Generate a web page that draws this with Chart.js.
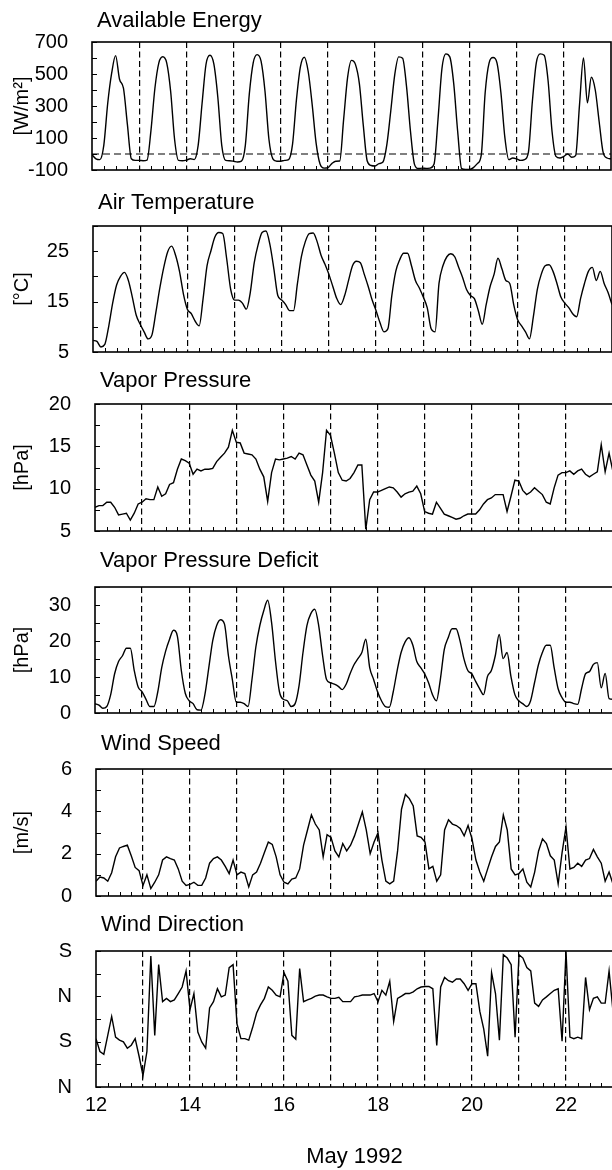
<!DOCTYPE html>
<html>
<head>
<meta charset="utf-8">
<script src="https://cdn.jsdelivr.net/npm/chart.js@4.4.1/dist/chart.umd.min.js"></script>
<style>
html, body { margin: 0; padding: 0; background: #fff; overflow: hidden; }
#wrap { position: relative; width: 612px; height: 1170px; overflow: hidden; background: #fff; }
#wrap canvas { position: absolute; left: 0; }
</style>
</head>
<body>
<div id="wrap"></div>
<script>
// ---------- data (2-hour samples, 12 May 00:00 to 23 May 00:00) ----------
const energy = [
  -5, -30, -35, 54, 317, 505, 615, 467, 411, 185, -30, -40,
  -40, -42, -38, 148, 411, 570, 608, 570, 392, 92, -40, -42,
  -38, -30, -35, 54, 317, 561, 617, 561, 355, 54, -40, -42,
  -45, -50, -45, 54, 373, 570, 621, 580, 392, 92, -30, -45,
  -45, -40, -35, 60, 340, 545, 605, 514, 309, 68, -63, -88,
  -85, -60, -45, -44, 216, 477, 585, 560, 440, 179, -44, -72,
  -75, -60, -50, 60, 272, 496, 607, 598, 421, 142, -63, -91,
  -88, -90, -88, -63, 216, 533, 626, 607, 440, 142, -91, -97,
  -97, -85, -60, -7, 384, 570, 603, 570, 384, 105, -35, -25,
  -30, -40, -35, 12, 328, 570, 626, 617, 458, 142, -15, -25,
  -15, 0, -20, -10, 310, 600, 320, 480, 400, 200, 10, -25,
  -30
];
const airTemp = [
  7.3, 7.1, 6.0, 6.5, 10.1, 14.7, 18.3, 20.0, 20.8, 19.2, 15.9, 12.3,
  10.5, 9.0, 7.6, 8.4, 12.9, 17.7, 21.8, 24.9, 26.0, 24.2, 21.0, 16.5,
  13.5, 12.6, 11.1, 10.2, 15.6, 22.1, 25.1, 27.8, 28.7, 28.5, 23.5, 17.5,
  15.3, 15.3, 14.7, 13.5, 16.8, 22.7, 26.3, 28.7, 29.0, 26.3, 21.5, 16.2,
  15.3, 14.4, 13.2, 13.2, 18.6, 23.9, 26.9, 28.5, 28.6, 26.9, 24.2, 22.4,
  20.4, 18.0, 15.6, 14.4, 16.2, 19.2, 22.1, 23.0, 22.7, 20.4, 18.0, 15.3,
  13.2, 10.8, 9.0, 9.6, 16.2, 21.0, 23.3, 24.6, 24.6, 22.1, 19.2, 17.7,
  15.9, 13.8, 9.6, 9.0, 18.6, 22.1, 23.9, 24.5, 23.9, 21.8, 19.8, 17.4,
  16.2, 15.6, 13.2, 10.5, 14.4, 18.0, 20.4, 23.6, 21.5, 19.2, 18.6, 14.4,
  11.4, 10.2, 9.0, 7.6, 12.0, 17.4, 20.4, 22.1, 22.3, 21.0, 18.6, 15.9,
  14.7, 13.8, 12.6, 12.0, 15.6, 18.6, 21.0, 21.8, 19.2, 21.0, 18.6, 16.8,
  14.4
];
const vaporPressure = [
  7.8, 8.0, 8.0, 8.4, 8.4, 7.8, 6.9, 7.0, 7.1, 6.3, 7.1, 8.2,
  8.4, 8.8, 8.7, 8.7, 10.2, 9.1, 9.4, 10.5, 10.7, 12.3, 13.5, 13.3,
  13.0, 11.7, 12.3, 12.1, 12.3, 12.3, 12.4, 13.2, 13.7, 14.2, 14.9, 16.9,
  15.5, 15.4, 14.2, 14.1, 14.0, 13.5, 12.3, 11.4, 8.5, 11.9, 13.5, 13.4,
  13.5, 13.6, 13.8, 13.5, 14.2, 14.0, 12.8, 11.6, 10.9, 8.4, 11.9, 16.9,
  16.3, 14.2, 11.9, 11.0, 10.9, 11.2, 11.9, 12.8, 12.8, 5.2, 8.7, 9.6,
  9.6, 9.8, 10.0, 10.2, 10.1, 9.6, 9.0, 9.4, 9.6, 9.7, 10.3, 9.4,
  7.3, 7.1, 7.0, 8.4, 7.7, 7.0, 6.8, 6.6, 6.4, 6.5, 6.8, 7.0,
  7.0, 7.0, 7.5, 8.2, 8.7, 8.9, 9.3, 9.3, 9.3, 7.3, 9.1, 11.0,
  10.9, 9.8, 9.3, 9.6, 10.1, 9.7, 9.3, 8.4, 8.2, 10.1, 11.6, 11.9,
  11.9, 12.1, 11.7, 12.1, 12.3, 11.7, 11.4, 11.7, 12.0, 15.2, 12.0, 14.2,
  12.0
];
const vaporDeficit = [
  2.6, 2.2, 1.3, 1.8, 5.1, 10.9, 14.3, 15.9, 18.0, 18.0, 11.8, 7.2,
  5.9, 3.8, 1.8, 1.8, 5.9, 12.6, 17.2, 20.5, 23.0, 21.3, 11.8, 5.5,
  3.4, 2.6, 0.9, 0.8, 5.1, 12.6, 20.1, 24.3, 25.9, 24.7, 15.9, 9.3,
  3.0, 3.0, 2.6, 1.8, 9.3, 18.4, 24.3, 28.4, 31.3, 25.1, 14.3, 5.9,
  3.8, 3.4, 1.8, 2.6, 7.6, 16.8, 24.3, 27.6, 28.8, 24.3, 15.9, 9.3,
  8.4, 8.0, 7.4, 6.5, 8.0, 10.9, 13.4, 15.1, 16.8, 20.5, 12.6, 9.3,
  5.9, 3.4, 1.8, 1.6, 5.9, 11.8, 16.8, 19.7, 20.9, 18.8, 14.3, 12.6,
  10.9, 8.4, 5.1, 3.4, 9.3, 17.6, 20.9, 23.4, 23.4, 20.1, 15.1, 11.8,
  10.9, 8.8, 6.8, 5.1, 10.1, 11.8, 15.9, 21.8, 15.1, 16.8, 10.1, 5.1,
  3.4, 2.6, 1.8, 3.4, 8.4, 13.4, 16.8, 18.8, 18.8, 12.6, 6.8, 4.3,
  3.0, 3.0, 2.6, 2.4, 6.8, 10.9, 11.5, 13.5, 14.0, 7.0, 11.0, 4.0,
  3.8
];
const windSpeed = [
  0.7, 0.9, 0.85, 0.7, 1.1, 1.85, 2.27, 2.34, 2.4, 1.9, 1.35, 1.2,
  0.5, 1.0, 0.35, 0.65, 1.0, 1.7, 1.85, 1.77, 1.7, 1.28, 0.7, 0.5,
  0.55, 0.65, 0.5, 0.5, 0.85, 1.55, 1.77, 1.85, 1.7, 1.4, 1.06, 1.7,
  1.0, 1.13, 1.06, 0.43, 1.0, 1.13, 1.55, 2.05, 2.55, 2.44, 1.85, 1.0,
  0.65, 0.57, 0.8, 0.85, 1.28, 2.4, 3.12, 3.83, 3.4, 3.12, 1.85, 2.9,
  2.77, 2.13, 1.85, 2.48, 2.13, 2.4, 2.84, 3.4, 3.97, 3.12, 2.0, 2.55,
  2.98, 1.7, 0.7, 0.57, 0.7, 2.13, 4.1, 4.8, 4.6, 4.25, 2.84, 2.77,
  2.55, 1.28, 1.4, 0.7, 1.0, 3.12, 3.6, 3.4, 3.33, 3.19, 2.84, 3.33,
  2.7, 1.7, 1.13, 0.7, 1.28, 1.85, 2.34, 2.55, 3.83, 3.12, 1.28, 1.0,
  1.06, 1.28, 0.65, 0.43, 1.13, 2.13, 2.7, 2.48, 1.9, 1.7, 0.57, 2.05,
  3.26, 1.28, 1.35, 1.55, 1.4, 1.7, 1.77, 2.2, 1.85, 1.55, 0.7, 1.13,
  0.57
];
// wind direction in degrees on an unwrapped N(0)-S(180)-N(360)-S(540) axis
const windDir = [
  192, 141, 130, 205, 280, 198, 186, 179, 154, 166, 192, 122,
  45, 141, 520, 205, 486, 339, 352, 339, 346, 371, 397, 461,
  307, 371, 218, 179, 154, 314, 339, 390, 358, 365, 474, 486,
  250, 192, 192, 186, 237, 294, 326, 352, 397, 384, 365, 358,
  454, 420, 205, 190, 470, 339, 346, 352, 361, 365, 365, 358,
  352, 352, 356, 339, 339, 339, 358, 361, 365, 365, 365, 371,
  339, 384, 365, 420, 260, 352, 361, 371, 371, 378, 390, 397,
  399, 399, 390, 165, 397, 435, 422, 416, 429, 429, 410, 384,
  410, 410, 300, 230, 122, 454, 371, 186, 525, 512, 486, 198,
  525, 512, 474, 461, 333, 320, 346, 358, 371, 384, 390, 182,
  538, 198, 192, 198, 192, 435, 307, 352, 358, 333, 333, 461,
  301
];

// ---------- axes / ticks ----------
const dayTicks = [12, 13, 14, 15, 16, 17, 18, 19, 20, 21, 22, 23];
const dayLabels = ['12', '', '14', '', '16', '', '18', '', '20', '', '22', ''];
const energyTicks = [-100, 100, 300, 500, 700];
const energyMarks = [-100, 0, 100, 200, 300, 400, 500, 600, 700];
const tempTicks = [5, 15, 25];
const tempMarks = [5, 10, 15, 20, 25, 30];
const vaporTicks = [5, 10, 15, 20];
const vaporMarks = [5, 7.5, 10, 12.5, 15, 17.5, 20];
const vpdTicks = [0, 10, 20, 30];
const vpdMarks = [0, 5, 10, 15, 20, 25, 30, 35];
const windTicks = [0, 2, 4, 6];
const windMarks = [0, 1, 2, 3, 4, 5, 6];
const dirTicks = [0, 180, 360, 540];
const dirLabels = ['N', 'S', 'N', 'S'];
const dirMarks = [0, 90, 180, 270, 360, 450, 540];

// sample times (days of May 1992)
const times = energy.map((_, i) => 12 + i / 12);
const quarterMarks = [];
dayTicks.slice(0, -1).forEach(d => { quarterMarks.push(d + 0.25, d + 0.5, d + 0.75); });

// ---------- panel layout ----------
const panels = [
  { title: 'Available Energy', unit: '[W/m²]', values: energy, min: -100, max: 700, ticks: energyTicks, marks: energyMarks, smooth: true, zero: true,
    top: 8, plotTop: 42, plotBottom: 184, left: 92, right: 611 },
  { title: 'Air Temperature', unit: '[°C]', values: airTemp, min: 5, max: 30, ticks: tempTicks, marks: tempMarks, smooth: true,
    top: 190, plotTop: 226, plotBottom: 366, left: 93, right: 612 },
  { title: 'Vapor Pressure', unit: '[hPa]', values: vaporPressure, min: 5, max: 20, ticks: vaporTicks, marks: vaporMarks, smooth: false,
    top: 368, plotTop: 404, plotBottom: 545, left: 95, right: 613 },
  { title: 'Vapor Pressure Deficit', unit: '[hPa]', values: vaporDeficit, min: 0, max: 35, ticks: vpdTicks, marks: vpdMarks, smooth: true,
    top: 548, plotTop: 587, plotBottom: 727, left: 95, right: 613 },
  { title: 'Wind Speed', unit: '[m/s]', values: windSpeed, min: 0, max: 6, ticks: windTicks, marks: windMarks, smooth: false,
    top: 731, plotTop: 769, plotBottom: 910, left: 96, right: 613 },
  { title: 'Wind Direction', unit: '', values: windDir, min: 0, max: 540, ticks: dirTicks, labels: dirLabels, marks: dirMarks, smooth: false,
    top: 912, plotTop: 951, plotBottom: 1093, left: 96, right: 613 }
];

Chart.defaults.font.family = "'Liberation Sans', Arial, Helvetica, sans-serif";
Chart.defaults.color = '#000';

const framePlugin = {
  id: 'frame',
  afterDraw(chart, args, opts) {
    const { ctx, chartArea: a } = chart;
    const x = chart.scales.x, y = chart.scales.y;
    ctx.save();
    ctx.strokeStyle = '#000';
    ctx.lineWidth = 1;
    ctx.beginPath();
    (opts.xMarks || []).forEach(v => {
      const px = Math.round(x.getPixelForValue(v)) + 0.5;
      ctx.moveTo(px, a.bottom); ctx.lineTo(px, a.bottom - 4);
    });
    (opts.yMarks || []).forEach(v => {
      const py = Math.round(y.getPixelForValue(v)) + 0.5;
      ctx.moveTo(a.left, py); ctx.lineTo(a.left + 5, py);
    });
    ctx.stroke();
    ctx.lineWidth = 1.6;
    ctx.strokeRect(a.left, a.top, a.right - a.left, a.bottom - a.top);
    ctx.restore();
  }
};
const titleShiftPlugin = {
  id: 'titleShift',
  afterLayout(chart, args, opts) {
    const t = chart.titleBlock;
    if (t && opts.dx) { t.left += opts.dx; t.right += opts.dx; }
  }
};

const wrap = document.getElementById('wrap');
const TITLE_SIZE = 22, TITLE_LH = TITLE_SIZE * 1.2;
const CANVAS_W = 620;

panels.forEach((p, idx) => {
  const last = idx === panels.length - 1;
  const H = last ? 1170 - p.top : (p.plotBottom - p.top + 14);
  const canvas = document.createElement('canvas');
  canvas.width = CANVAS_W; canvas.height = H;
  canvas.style.top = p.top + 'px';
  canvas.style.width = CANVAS_W + 'px';
  canvas.style.height = H + 'px';
  wrap.appendChild(canvas);

  const datasets = [{
    data: times.map((t, i) => ({ x: t, y: p.values[i] })),
    borderColor: '#000', borderWidth: 1.4, pointRadius: 0, fill: false,
    tension: 0, cubicInterpolationMode: p.smooth ? 'monotone' : 'default'
  }];
  if (p.zero) {
    datasets.push({
      data: [{ x: dayTicks[0], y: 0 }, { x: dayTicks[dayTicks.length - 1], y: 0 }],
      borderColor: '#000', borderWidth: 1.2, borderDash: [7, 4], pointRadius: 0, fill: false
    });
  }

  new Chart(canvas, {
    type: 'line',
    data: { datasets },
    options: {
      responsive: false, animation: false, devicePixelRatio: 1, events: [],
      layout: { padding: { left: 0, top: 0, right: CANVAS_W - p.right, bottom: last ? 0 : 14 } },
      plugins: {
        legend: { display: false },
        tooltip: { enabled: false },
        title: {
          display: true, text: p.title, align: 'start', fullSize: false, color: '#000',
          font: { size: TITLE_SIZE, lineHeight: 1.2, weight: 'normal' },
          padding: { top: 0, bottom: p.plotTop - p.top - TITLE_LH }
        },
        frame: { xMarks: quarterMarks, yMarks: p.marks },
        titleShift: { dx: 5 }
      },
      scales: {
        x: {
          type: 'linear', min: 12, max: 23,
          afterBuildTicks: s => { s.ticks = dayTicks.map(v => ({ value: v })); },
          grid: {
            color: c => (c.tick && (c.tick.value === 12 || c.tick.value === 23)) ? 'rgba(0,0,0,0)' : '#000',
            lineWidth: 1.2, drawTicks: false
          },
          border: { display: false, dash: [6, 3.5] },
          ticks: {
            display: last, autoSkip: false, maxRotation: 0, minRotation: 0, padding: 6,
            color: '#000', font: { size: 20 },
            callback: v => dayLabels[dayTicks.indexOf(v)] ?? ''
          },
          title: {
            display: last, text: 'May 1992', color: '#000',
            font: { size: 22, lineHeight: 1.2 }, padding: { top: 20.6, bottom: 0 }
          }
        },
        y: {
          type: 'linear', min: p.min, max: p.max,
          afterBuildTicks: s => { s.ticks = p.ticks.map(v => ({ value: v })); },
          afterFit: s => { s.width = p.left; },
          grid: { display: false },
          border: { display: false },
          ticks: {
            autoSkip: false, color: '#000', font: { size: 20 }, padding: 16,
            callback: v => p.labels ? p.labels[p.ticks.indexOf(v)] : String(v)
          },
          title: {
            display: p.unit !== '', text: p.unit, color: '#000',
            font: { size: 20, lineHeight: 1.2 }, padding: { top: 10, bottom: 0 }
          }
        }
      }
    },
    plugins: [framePlugin, titleShiftPlugin]
  });
});
</script>
</body>
</html>
